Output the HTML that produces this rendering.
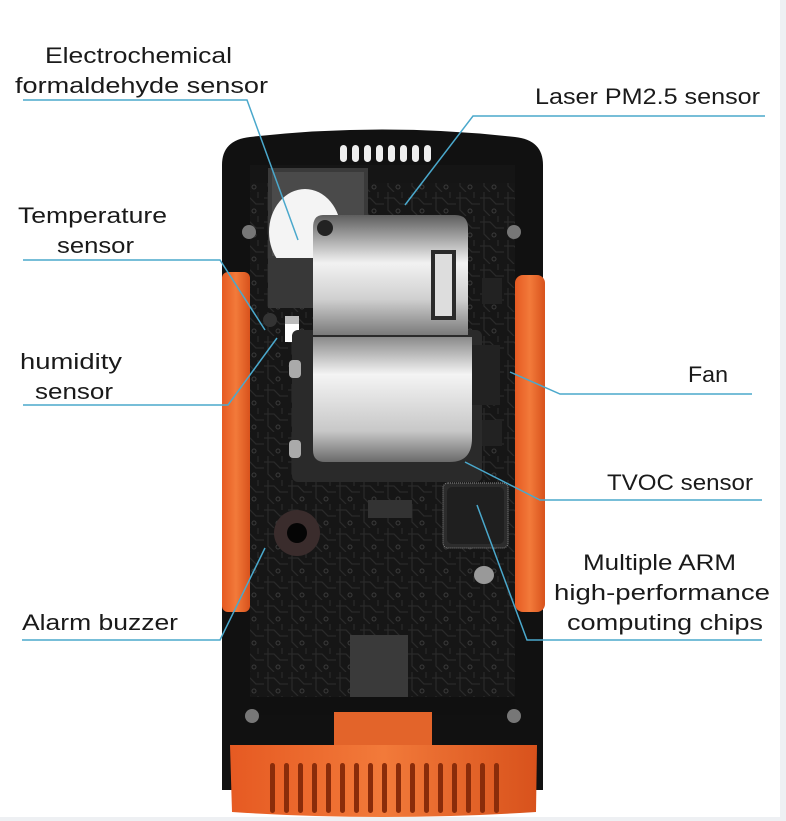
<!DOCTYPE html>
<html><head><meta charset="utf-8"><style>
html,body{margin:0;padding:0;background:#fff;}
svg{display:block}
text{font-family:"Liberation Sans","DejaVu Sans",sans-serif;font-size:22px;fill:#1a1a1a;}
</style></head><body>
<svg width="786" height="821" viewBox="0 0 786 821" xmlns="http://www.w3.org/2000/svg">
<defs>
<linearGradient id="silv" x1="0" y1="0" x2="0" y2="1">
<stop offset="0" stop-color="#5e5e5e"/><stop offset="0.4" stop-color="#f2f2f2"/><stop offset="0.7" stop-color="#d0d0d0"/><stop offset="1" stop-color="#7a7a7a"/></linearGradient>
<linearGradient id="silv2" x1="0" y1="0" x2="0" y2="1">
<stop offset="0" stop-color="#8a8a8a"/><stop offset="0.3" stop-color="#f4f4f4"/><stop offset="0.75" stop-color="#c8c8c8"/><stop offset="1" stop-color="#6a6a6a"/></linearGradient>
<linearGradient id="org" x1="0" y1="0" x2="1" y2="0">
<stop offset="0" stop-color="#e65a22"/><stop offset="0.5" stop-color="#f27a3a"/><stop offset="1" stop-color="#d8521c"/></linearGradient>
<pattern id="pcb" width="24" height="24" patternUnits="userSpaceOnUse">
<rect width="24" height="24" fill="#161616"/>
<path d="M0 6 H10 L16 12 H24 M4 0 V18 L10 24 M18 0 V6" stroke="#2a2a2a" stroke-width="1.2" fill="none"/>
<circle cx="14" cy="19" r="2" stroke="#3a3a3a" fill="none"/></pattern>
</defs>
<rect x="780" y="0" width="6" height="821" fill="#eef0f3"/>
<rect x="0" y="817" width="786" height="4" fill="#eef0f3"/>
<!-- body -->
<path d="M222 165 Q222 140 250 137 Q382 122 515 137 Q543 140 543 165 L543 790 L222 790 Z" fill="#111"/>
<rect x="250" y="165" width="265" height="550" fill="url(#pcb)"/>
<rect x="250" y="165" width="265" height="18" fill="#151515"/>
<!-- vent slots top -->
<g fill="#eee">
<rect x="340" y="145" width="7" height="17" rx="3.5"/><rect x="352" y="145" width="7" height="17" rx="3.5"/><rect x="364" y="145" width="7" height="17" rx="3.5"/><rect x="376" y="145" width="7" height="17" rx="3.5"/><rect x="388" y="145" width="7" height="17" rx="3.5"/><rect x="400" y="145" width="7" height="17" rx="3.5"/><rect x="412" y="145" width="7" height="17" rx="3.5"/><rect x="424" y="145" width="7" height="17" rx="3.5"/>
</g>
<!-- side orange -->
<rect x="222" y="272" width="28" height="340" rx="6" fill="url(#org)"/>
<rect x="515" y="275" width="30" height="337" rx="8" fill="url(#org)"/>
<!-- fan module -->
<rect x="268" y="168" width="100" height="92" fill="#3a3a3a"/>
<rect x="272" y="172" width="92" height="84" fill="#4a4a4a"/>
<ellipse cx="305" cy="232" rx="36" ry="43" fill="#f4f4f4"/>
<rect x="268" y="258" width="48" height="50" fill="#383838"/>
<!-- temp/humidity sensors -->
<circle cx="270" cy="320" r="7" fill="#333"/>
<rect x="285" y="316" width="14" height="26" fill="#fff"/>
<rect x="285" y="316" width="14" height="8" fill="#bbb"/>
<!-- black bracket -->
<rect x="292" y="330" width="190" height="152" rx="6" fill="#2a2a2a"/>
<rect x="289" y="360" width="12" height="18" rx="4" fill="#aaa"/>
<rect x="289" y="440" width="12" height="18" rx="4" fill="#aaa"/>
<rect x="470" y="345" width="30" height="60" fill="#222"/>
<!-- silver module -->
<path d="M323 215 L455 215 Q468 215 468 228 L468 335 L313 335 L313 228 Q313 215 323 215 Z" fill="url(#silv)"/>
<circle cx="325" cy="228" r="8" fill="#222"/>
<rect x="431" y="250" width="25" height="70" fill="#2a2a2a"/>
<rect x="435" y="254" width="17" height="62" fill="#ddd"/>
<path d="M313 337 L472 337 L472 438 Q472 462 450 462 L325 462 Q313 462 313 450 Z" fill="url(#silv2)"/>
<!-- chips -->
<rect x="482" y="278" width="20" height="26" fill="#222"/>
<rect x="482" y="420" width="20" height="26" fill="#222"/>
<rect x="443" y="483" width="65" height="65" rx="5" fill="#2c2c2c" stroke="#888" stroke-width="1" stroke-dasharray="1 1"/>
<rect x="447" y="487" width="57" height="57" rx="5" fill="#1f1f1f"/>
<ellipse cx="484" cy="575" rx="10" ry="9" fill="#999"/>
<rect x="368" y="500" width="44" height="18" fill="#333"/>
<!-- buzzer -->
<circle cx="297" cy="533" r="23" fill="#3a2c2c"/>
<circle cx="297" cy="533" r="10" fill="#050505"/>
<rect x="350" y="635" width="58" height="62" fill="#3a3a3a"/>
<rect x="250" y="697" width="265" height="18" fill="#101010"/>
<!-- screws -->
<g fill="#777"><circle cx="249" cy="232" r="7"/><circle cx="514" cy="232" r="7"/><circle cx="252" cy="716" r="7"/><circle cx="514" cy="716" r="7"/></g>
<!-- bottom orange -->
<rect x="334" y="712" width="98" height="38" fill="#e3642a"/>
<path d="M230 745 L537 745 L536 812 Q383 822 232 812 Z" fill="url(#org)"/>
<g fill="#8a2c0a">
<rect x="270" y="763" width="5" height="50" rx="2.5"/><rect x="284" y="763" width="5" height="50" rx="2.5"/><rect x="298" y="763" width="5" height="50" rx="2.5"/><rect x="312" y="763" width="5" height="50" rx="2.5"/><rect x="326" y="763" width="5" height="50" rx="2.5"/><rect x="340" y="763" width="5" height="50" rx="2.5"/><rect x="354" y="763" width="5" height="50" rx="2.5"/><rect x="368" y="763" width="5" height="50" rx="2.5"/><rect x="382" y="763" width="5" height="50" rx="2.5"/><rect x="396" y="763" width="5" height="50" rx="2.5"/><rect x="410" y="763" width="5" height="50" rx="2.5"/><rect x="424" y="763" width="5" height="50" rx="2.5"/><rect x="438" y="763" width="5" height="50" rx="2.5"/><rect x="452" y="763" width="5" height="50" rx="2.5"/><rect x="466" y="763" width="5" height="50" rx="2.5"/><rect x="480" y="763" width="5" height="50" rx="2.5"/><rect x="494" y="763" width="5" height="50" rx="2.5"/>
</g>
<!-- leader lines -->
<g stroke="#4aa8cc" stroke-width="1.5" fill="none">
<polyline points="23,100 247,100 298,240"/>
<polyline points="765,116 473,116 405,205"/>
<polyline points="23,260 220,260 265,330"/>
<polyline points="23,405 228,405 277,338"/>
<polyline points="752,394 560,394 510,372"/>
<polyline points="762,500 540,500 465,462"/>
<polyline points="762,640 527,640 477,505"/>
<polyline points="22,640 220,640 265,548"/>
</g>
<!-- labels -->
<text x="45" y="63" textLength="187" lengthAdjust="spacingAndGlyphs">Electrochemical</text>
<text x="15" y="93" textLength="253" lengthAdjust="spacingAndGlyphs">formaldehyde sensor</text>
<text x="535" y="104" textLength="225" lengthAdjust="spacingAndGlyphs">Laser PM2.5 sensor</text>
<text x="18" y="223" textLength="149" lengthAdjust="spacingAndGlyphs">Temperature</text>
<text x="57" y="253" textLength="77" lengthAdjust="spacingAndGlyphs">sensor</text>
<text x="20" y="369" textLength="102" lengthAdjust="spacingAndGlyphs">humidity</text>
<text x="35" y="399" textLength="78" lengthAdjust="spacingAndGlyphs">sensor</text>
<text x="688" y="382" textLength="40" lengthAdjust="spacingAndGlyphs">Fan</text>
<text x="607" y="490" textLength="146" lengthAdjust="spacingAndGlyphs">TVOC sensor</text>
<text x="583" y="570" textLength="153" lengthAdjust="spacingAndGlyphs">Multiple ARM</text>
<text x="554" y="600" textLength="216" lengthAdjust="spacingAndGlyphs">high-performance</text>
<text x="567" y="630" textLength="196" lengthAdjust="spacingAndGlyphs">computing chips</text>
<text x="22" y="630" textLength="156" lengthAdjust="spacingAndGlyphs">Alarm buzzer</text>
</svg>
</body></html>
